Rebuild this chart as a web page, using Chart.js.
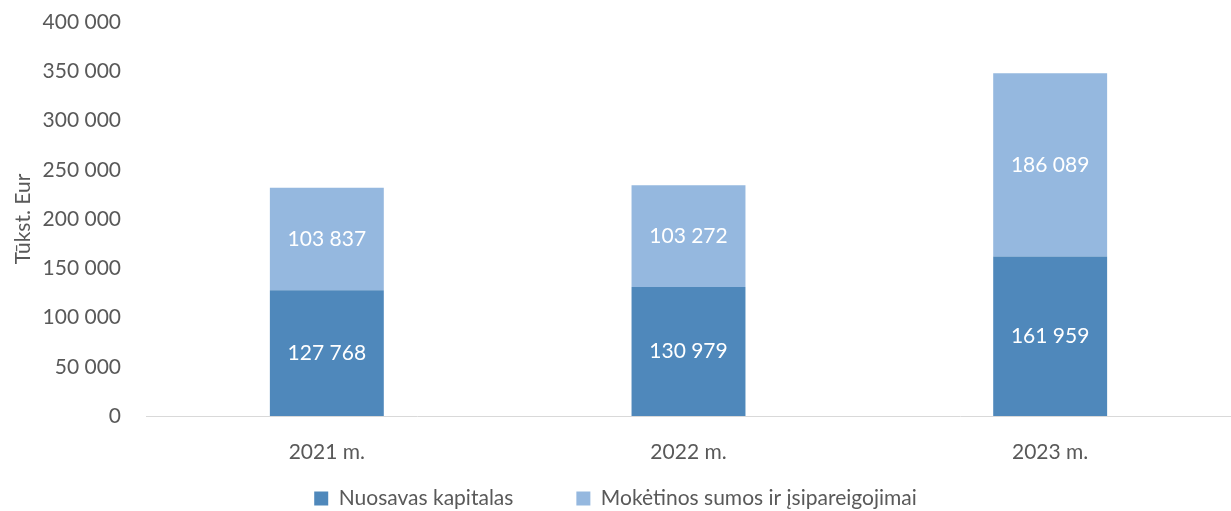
<!DOCTYPE html>
<html>
<head>
<meta charset="utf-8">
<script src="https://cdn.jsdelivr.net/npm/chart.js@4.4.1/dist/chart.umd.min.js"></script>
<style>
  html, body { margin: 0; padding: 0; background: #fff; }
  #wrap { width: 1231px; height: 511px; position: relative; }
</style>
</head>
<body>
<div id="wrap"><canvas id="balanceChart"></canvas></div>
<script>
const years = ["2021 m.", "2022 m.", "2023 m."];
const equity = [127768, 130979, 161959];
const liabilities = [103837, 103272, 186089];
const seriesNames = ["Nuosavas kapitalas", "Mokėtinos sumos ir įsipareigojimai"];

const fontFamily = "Lato, 'Open Sans', sans-serif";
const textColor = "#595959";

const formatNumber = (value) => {
  return Math.round(value).toString().replace(/\B(?=(\d{3})+(?!\d))/g, " ");
};

// writes the value in the middle of every bar segment
const barLabels = {
  id: "barLabels",
  afterDatasetsDraw(chart) {
    const c = chart.ctx;
    c.save();
    c.fillStyle = "#ffffff";
    c.font = "21px " + fontFamily;
    c.textAlign = "center";
    c.textBaseline = "middle";
    chart.data.datasets.forEach((ds, i) => {
      chart.getDatasetMeta(i).data.forEach((bar, j) => {
        const mid = (bar.y + bar.base) / 2;
        c.fillText(formatNumber(ds.data[j]), bar.x, mid);
      });
    });
    c.restore();
  },
};

new Chart(document.getElementById("balanceChart"), {
  type: "bar",
  data: {
    labels: years,
    datasets: [
      {
        label: seriesNames[0],
        data: equity,
        backgroundColor: "#4f88bb",
        barPercentage: 0.315,
        categoryPercentage: 1,
      },
      {
        label: seriesNames[1],
        data: liabilities,
        backgroundColor: "#95b8df",
        barPercentage: 0.315,
        categoryPercentage: 1,
      },
    ],
  },
  options: {
    responsive: true,
    maintainAspectRatio: false,
    animation: false,
    layout: { padding: { top: 0, right: 0, bottom: -8, left: 0 } },
    scales: {
      x: {
        stacked: true,
        grid: { display: false, drawTicks: false },
        border: { color: "#d9d9d9", width: 1 },
        ticks: {
          color: textColor,
          padding: 24,
          font: { family: fontFamily, size: 21 },
        },
        afterFit: (scale) => {
          scale.height = 52;
          scale.paddingRight = 0;
        },
      },
      y: {
        stacked: true,
        min: 0,
        max: 400000,
        grid: { display: false, drawTicks: false },
        border: { display: false },
        ticks: {
          stepSize: 50000,
          color: textColor,
          padding: 25,
          font: { family: fontFamily, size: 21 },
          callback: (v) => formatNumber(v),
        },
        title: {
          display: true,
          text: "Tūkst. Eur",
          color: textColor,
          padding: { top: 11, bottom: 0 },
          font: { family: fontFamily, size: 21 },
        },
        afterFit: (scale) => {
          scale.width = 146;
          scale.paddingTop = 22;
        },
      },
    },
    plugins: {
      legend: {
        position: "bottom",
        labels: {
          color: textColor,
          boxWidth: 14,
          boxHeight: 14,
          padding: 20,
          font: { family: fontFamily, size: 21 },
          // extra spaces widen the gap after the first item
          generateLabels: (chart) => {
            const items = Chart.defaults.plugins.legend.labels.generateLabels(chart);
            items[0].text = items[0].text + "        ";
            return items;
          },
        },
      },
      tooltip: { enabled: false },
    },
  },
  plugins: [barLabels],
});
</script>
</body>
</html>
